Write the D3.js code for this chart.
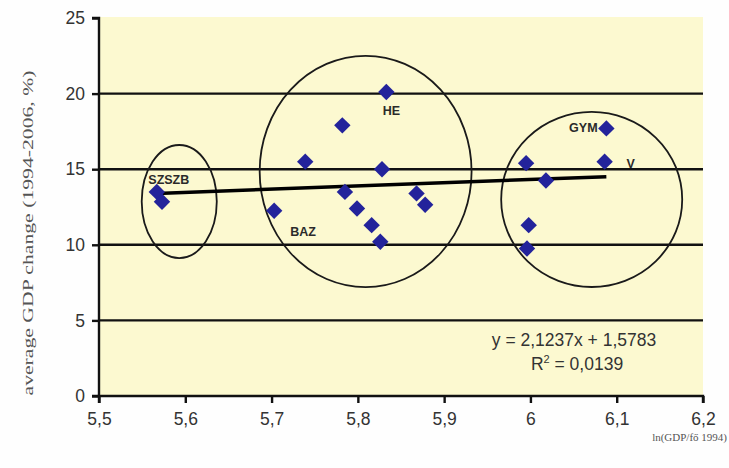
<!DOCTYPE html>
<html><head><meta charset="utf-8">
<script src="https://cdn.jsdelivr.net/npm/d3@7"></script>
<style>body{margin:0;background:#fefefe}svg{display:block}</style>
</head><body>
<svg id="c" width="729" height="468"></svg>
<script>
const xVals = [5.567, 5.573, 5.703, 5.739, 5.782, 5.785, 5.799, 5.816, 5.826, 5.828, 5.833, 5.868, 5.878, 5.995, 5.998, 5.996, 6.018, 6.088, 6.086];
const yVals = [13.5, 12.85, 12.25, 15.5, 17.9, 13.5, 12.4, 11.3, 10.2, 15.0, 20.1, 13.4, 12.65, 15.4, 11.3, 9.75, 14.25, 17.7, 15.5];
const pointLabels = ["SZSZB", "N", "BAZ", "", "", "", "", "", "", "", "HE", "", "", "", "", "", "", "GYM", "V"];
const xTicks = [5.5, 5.6, 5.7, 5.8, 5.9, 6.0, 6.1, 6.2];
const yTicks = [0, 5, 10, 15, 20, 25];
const gridValues = [5, 10, 15, 20];
const slope = 2.1237, intercept = 1.5783, r2 = "0,0139";
// cluster ellipses: centre x, centre y, radius x, radius y (data units)
const clusterCx = [5.593, 5.809, 6.071];
const clusterCy = [12.86, 14.85, 13.0];
const clusterRx = [0.0435, 0.1228, 0.1049];
const clusterRy = [3.74, 7.65, 5.79];
const yTitle = "average GDP change (1994-2006, %)";
const xTitle = "ln(GDP/fő 1994)";

const svg = d3.select("#c");
const x = d3.scaleLinear().domain([5.5, 6.2]).range([99, 703]);
const y = d3.scaleLinear().domain([0, 25]).range([396, 18]);
const fmt = d => String(+d.toFixed(4)).replace(".", ",");

svg.append("rect").attr("x", x(5.5)).attr("y", y(25) - 1).attr("width", x(6.2) - x(5.5)).attr("height", y(0) - y(25) + 1).attr("fill", "#fcf9d0");

svg.append("g").selectAll("line").data(gridValues).join("line")
  .attr("x1", x(5.5)).attr("x2", x(6.2)).attr("y1", d => y(d)).attr("y2", d => y(d))
  .attr("stroke", "#111").attr("stroke-width", 2.4);

// ellipses
svg.append("g").selectAll("ellipse").data(clusterCx).join("ellipse")
  .attr("cx", (d, i) => x(d)).attr("cy", (d, i) => y(clusterCy[i]))
  .attr("rx", (d, i) => x(5.5 + clusterRx[i]) - x(5.5))
  .attr("ry", (d, i) => y(0) - y(clusterRy[i]))
  .attr("fill", "none").attr("stroke", "#1a1a1a").attr("stroke-width", 1.8);

// trend line
const x0 = d3.min(xVals), x1 = d3.max(xVals);
svg.append("line").attr("x1", x(x0)).attr("y1", y(slope * x0 + intercept))
  .attr("x2", x(x1)).attr("y2", y(slope * x1 + intercept))
  .attr("stroke", "#000").attr("stroke-width", 3.5);

// points
const pts = xVals.map((v, i) => ({x: v, y: yVals[i], label: pointLabels[i]}));
const sym = d3.symbol().type(d3.symbolSquare).size(135);
svg.append("g").selectAll("path").data(pts).join("path")
  .attr("d", sym)
  .attr("transform", d => `translate(${x(d.x)},${y(d.y)}) rotate(45)`)
  .attr("fill", "#23239b");

// labels
const labelOffset = {"SZSZB": [12, -12], "N": [-2, 9], "BAZ": [29, 21], "HE": [5, 19], "GYM": [-23, 0], "V": [26, 2]};
svg.append("g").selectAll("text").data(pts.filter(d => d.label && d.label !== "N")).join("text")
  .attr("x", d => x(d.x) + labelOffset[d.label][0])
  .attr("y", d => y(d.y) + labelOffset[d.label][1])
  .attr("text-anchor", "middle").attr("dominant-baseline", "central")
  .attr("font-family", "Liberation Sans, Arial, sans-serif").attr("font-weight", "bold")
  .attr("font-size", 12.5).attr("fill", "#2a2a2a")
  .text(d => d.label);

// axes
const ya = svg.append("g").attr("transform", `translate(${x(5.5)},0)`)
  .call(d3.axisLeft(y).tickValues(yTicks).tickSize(7).tickPadding(7).tickFormat(fmt));
const xa = svg.append("g").attr("transform", `translate(0,${y(0)})`)
  .call(d3.axisBottom(x).tickValues(xTicks).tickSize(7).tickPadding(10).tickFormat(fmt));
[ya, xa].forEach(g => {
  g.select(".domain").attr("stroke", "#111").attr("stroke-width", 2.4);
  g.selectAll(".tick line").attr("stroke", "#111").attr("stroke-width", 2.4);
  g.selectAll(".tick text").attr("font-family", "Liberation Sans, Arial, sans-serif").attr("font-size", 17.5).attr("fill", "#333");
});
ya.select(".domain").attr("d", `M-7,${y(25)}H0V${y(0)}H-7`);
xa.select(".domain").attr("d", `M${x(5.5)},7V0H${x(6.2)}V7`);

// equation
const eq = svg.append("g").attr("font-family", "Liberation Sans, Arial, sans-serif").attr("font-size", 17.5).attr("fill", "#333").attr("text-anchor", "middle");
eq.append("text").attr("x", 574).attr("y", 346).text(`y = ${fmt(slope)}x + ${fmt(intercept)}`);
const r = eq.append("text").attr("x", 577).attr("y", 370);
r.append("tspan").text("R");
r.append("tspan").attr("font-size", 11).attr("dy", -7).text("2");
r.append("tspan").attr("dy", 7).text(` = ${r2}`);

// axis titles
svg.append("text").attr("transform", "translate(33,233) rotate(-90)")
  .attr("text-anchor", "middle").attr("font-family", "Liberation Serif, Times New Roman, serif")
  .attr("font-size", 15).attr("fill", "#555").attr("textLength", 325).attr("lengthAdjust", "spacingAndGlyphs")
  .text(yTitle);
svg.append("text").attr("x", 727).attr("y", 441).attr("text-anchor", "end")
  .attr("font-family", "Liberation Serif, Times New Roman, serif").attr("font-size", 11).attr("fill", "#555")
  .text(xTitle);
</script>
</body></html>
